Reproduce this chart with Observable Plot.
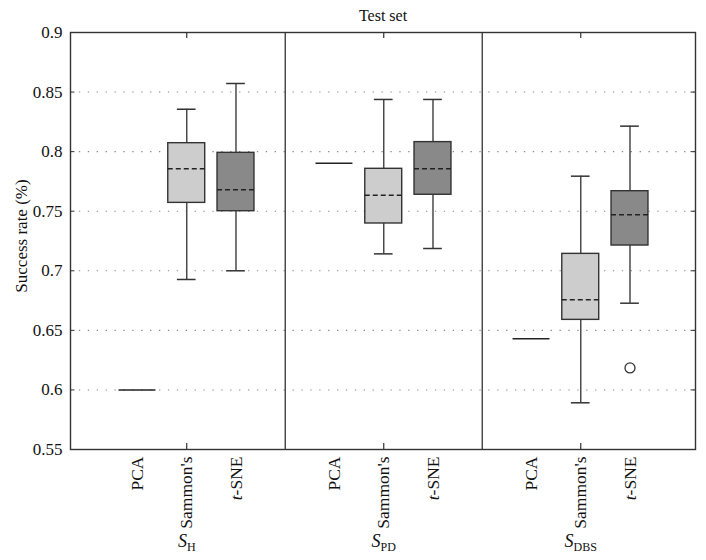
<!DOCTYPE html>
<html>
<head>
<meta charset="utf-8">
<script src="https://cdn.jsdelivr.net/npm/d3@7"></script>
<script src="https://cdn.jsdelivr.net/npm/@observablehq/plot@0.6"></script>
<style>
  body { margin: 0; background: #fff; }
</style>
</head>
<body>
<div id="chart"></div>
<script>
// ---- data ----
const groups = ["H", "PD", "DBS"];
const methods = ["PCA", "Sammon's", "t-SNE"];
// one entry per (group, method), in order H:PCA,Sammon,tSNE | PD:... | DBS:...
const boxGroup  = ["H","H","H","PD","PD","PD","DBS","DBS","DBS"];
const boxMethod = ["PCA","Sammon's","t-SNE","PCA","Sammon's","t-SNE","PCA","Sammon's","t-SNE"];
const lows    = [0.600, 0.6927, 0.700, 0.7903, 0.7142, 0.7187, 0.6429, 0.5892, 0.6728];
const q1s     = [0.600, 0.757,  0.750, 0.7903, 0.7397, 0.7638, 0.6429, 0.6588, 0.7212];
const medians = [0.600, 0.7856, 0.768, 0.7903, 0.7635, 0.7856, 0.6429, 0.6756, 0.747];
const q3s     = [0.600, 0.8071, 0.799, 0.7903, 0.7856, 0.808,  0.6429, 0.7142, 0.7668];
const highs   = [0.600, 0.8356, 0.8572, 0.7903, 0.8438, 0.8438, 0.6429, 0.7794, 0.8214];
const outlierGroup  = ["DBS"];
const outlierMethod = ["t-SNE"];
const outlierValue  = [0.6185];
const yTicks = [0.55, 0.6, 0.65, 0.7, 0.75, 0.8, 0.85, 0.9];
const groupLabels = ["S|H", "S|PD", "S|DBS"];
const title = "Test set";
const yLabel = "Success rate (%)";

// ---- layout helpers ----
const pos = (g, m) => groups.indexOf(g) * 4 + methods.indexOf(m);
const xDomain = [-1.36, 11.33];
const yDomain = [0.55, 0.9];
const halfBox = 0.375, halfCap = 0.19;
const fills = {"PCA": "#000", "Sammon's": "#cdcdcd", "t-SNE": "#898989"};

const boxes = boxGroup.map((g, i) => ({
  group: g, method: boxMethod[i], p: pos(g, boxMethod[i]),
  lo: lows[i], q1: q1s[i], med: medians[i], q3: q3s[i], hi: highs[i]
}));
const full = boxes.filter(d => d.q3 > d.q1);
const flat = boxes.filter(d => d.q3 === d.q1);
const outliers = outlierValue.map((v, i) => ({p: pos(outlierGroup[i], outlierMethod[i]), v}));
const catTicks = [];
groups.forEach(g => methods.forEach(m => catTicks.push({p: pos(g, m), label: m})));
const groupTicks = groups.map((g, i) => ({p: pos(g, methods[1]), label: groupLabels[i]}));
const dividers = [3, 7];
const innerY = yTicks.slice(1, -1);

const chart = Plot.plot({
  width: 706,
  height: 560,
  marginLeft: 70,
  marginRight: 11,
  marginTop: 32,
  marginBottom: 111,
  style: {fontFamily: "'Liberation Serif', 'DejaVu Serif', serif", fontSize: "16px", background: "#fff"},
  x: {type: "linear", domain: xDomain, axis: null},
  y: {domain: yDomain, axis: null},
  marks: [
    // dotted grid
    Plot.ruleY(innerY, {stroke: "#888", strokeWidth: 1.1, strokeDasharray: "1.3,7.6"}),
    // inner ticks on left/right
    Plot.ruleY(innerY, {x1: xDomain[0], x2: xDomain[0] + 0.09, stroke: "#333"}),
    Plot.ruleY(innerY, {x1: xDomain[1] - 0.09, x2: xDomain[1], stroke: "#333"}),
    // inner ticks top/bottom at group centers
    Plot.ruleX(groupTicks, {x: "p", y1: 0.9, y2: 0.895, stroke: "#333", strokeWidth: 1.2}),
    Plot.ruleX(groupTicks, {x: "p", y1: 0.55, y2: 0.555, stroke: "#333", strokeWidth: 1.2}),
    // group dividers
    Plot.ruleX(dividers, {stroke: "#333", strokeWidth: 1.3}),
    // whiskers
    Plot.ruleX(full, {x: "p", y1: "q3", y2: "hi", stroke: "#4a4a4a", strokeWidth: 1.5}),
    Plot.ruleX(full, {x: "p", y1: "lo", y2: "q1", stroke: "#4a4a4a", strokeWidth: 1.5}),
    Plot.ruleY(full, {y: "hi", x1: d => d.p - halfCap, x2: d => d.p + halfCap, stroke: "#333", strokeWidth: 1.5}),
    Plot.ruleY(full, {y: "lo", x1: d => d.p - halfCap, x2: d => d.p + halfCap, stroke: "#333", strokeWidth: 1.5}),
    // boxes
    Plot.rect(full, {x1: d => d.p - halfBox, x2: d => d.p + halfBox, y1: "q1", y2: "q3",
      fill: d => fills[d.method], stroke: "#333", strokeWidth: 1.4}),
    // medians
    Plot.ruleY(full, {y: "med", x1: d => d.p - halfBox, x2: d => d.p + halfBox,
      stroke: "#222", strokeWidth: 1.5, strokeDasharray: "5,3"}),
    // PCA (single value)
    Plot.ruleY(flat, {y: "med", x1: d => d.p - halfBox, x2: d => d.p + halfBox, stroke: "#222", strokeWidth: 1.6}),
    // outliers
    Plot.dot(outliers, {x: "p", y: "v", r: 5, fill: "#fff", stroke: "#333", strokeWidth: 1.3}),
    Plot.frame({stroke: "#333", strokeWidth: 1.4}),
    // y tick labels
    Plot.text(yTicks, {y: d => d, text: d => String(d), frameAnchor: "left", textAnchor: "end",
      lineAnchor: "middle", dx: -8, fontSize: 17, fill: "#111"}),
    // y label
    Plot.text([yLabel], {frameAnchor: "left", rotate: -90, textAnchor: "middle", lineAnchor: "middle",
      dx: -49, dy: -5, fontSize: 17, fill: "#111"}),
    // title
    Plot.text([title], {frameAnchor: "top", textAnchor: "middle", lineAnchor: "middle", dy: -17, fontSize: 16, fill: "#111"}),
    // category labels
    Plot.text(catTicks, {x: "p", text: "label", frameAnchor: "bottom", rotate: -90, textAnchor: "end",
      lineAnchor: "middle", dy: 7, fontSize: 17.5, fill: "#111"}),
    // group labels
    Plot.text(groupTicks, {x: "p", text: "label", frameAnchor: "bottom", textAnchor: "middle",
      lineAnchor: "middle", dy: 92, fontSize: 18, fill: "#111"})
  ]
});

// rich text: italic t in t-SNE, S with subscript
d3.select(chart).selectAll("text").each(function () {
  const t = this.textContent;
  const sel = d3.select(this);
  if (t === "t-SNE") {
    this.textContent = "";
    sel.append("tspan").attr("font-style", "italic").text("t");
    sel.append("tspan").text("-SNE");
  } else if (t.startsWith("S|")) {
    const sub = t.slice(2);
    this.textContent = "";
    sel.append("tspan").attr("font-style", "italic").text("S");
    sel.append("tspan").attr("font-size", 12).attr("dy", "0.35em").text(sub);
  }
});

document.getElementById("chart").appendChild(chart);
</script>
</body>
</html>
